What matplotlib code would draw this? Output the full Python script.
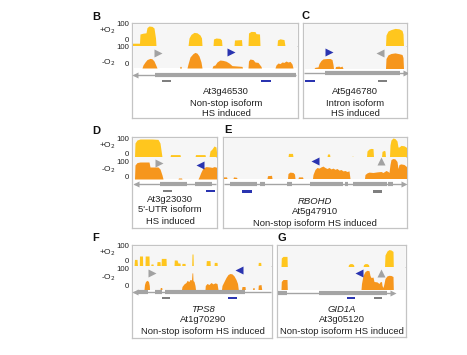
import matplotlib
matplotlib.use('Agg')
import matplotlib.pyplot as plt
from matplotlib.patches import Rectangle

plt.rcParams['font.family'] = ['Liberation Sans', 'DejaVu Sans']

W, H = 467, 355
TOP_C = '#FFC61E'
BOT_C = '#F6961C'
GENE_C = '#a4a4a4'
DARK_C = '#7f7f7f'
BLUE_C = '#2a34b0'
TRI_GRAY = '#a2a2a2'

# ---------------- data (genomic position in panel units, coverage 0-100) ----------------
B_top_x = [0.5, 0.5, 7.5, 8, 11, 14, 15, 17, 20, 22, 23.5, 24,
           56, 57, 59, 62, 65, 68, 69.5, 70,
           81, 81.5, 84, 88, 89.5, 90,
           102, 102.5, 109.5, 110,
           116, 116.5, 119, 123, 124, 127.5, 128,
           145, 145.5, 148, 152, 153]
B_top_y = [0, 14, 14, 60, 64, 66, 92, 100, 98, 90, 40, 0,
           0, 40, 58, 68, 66, 55, 40, 0,
           0, 35, 40, 38, 30, 0,
           0, 30, 32, 0,
           0, 65, 73, 72, 62, 60, 0,
           0, 30, 36, 32, 0]
B_bot_x = [10, 11, 13, 15, 18, 20, 22, 24, 25,
           47.5, 48, 49, 49.5,
           55, 56, 58, 61, 63, 65, 67, 69, 70,
           80, 81, 83, 85, 88, 91, 94, 97, 100, 110, 110.5,
           116, 116.5, 118, 121, 123, 126, 129, 129.5,
           143, 144, 146, 148, 150, 152, 154, 156, 158, 160, 161]
B_bot_y = [0, 15, 30, 42, 48, 46, 35, 12, 0,
           0, 8, 8, 0,
           0, 20, 55, 72, 78, 74, 60, 30, 0,
           0, 12, 15, 30, 40, 38, 34, 25, 12, 8, 0,
           0, 35, 45, 42, 30, 28, 8, 0,
           0, 15, 25, 22, 30, 28, 35, 30, 33, 20, 0]

C_top_x = [82.5, 83, 85, 88, 92, 96, 99, 100, 100.5]
C_top_y = [0, 55, 75, 82, 88, 86, 78, 60, 0]
C_bot_x = [11, 12, 15, 16, 18, 20, 24, 27, 29, 30, 30.5,
           32, 32.5, 36, 37, 39, 40,
           82.5, 83, 85, 88, 92, 96, 99, 100, 100.5]
C_bot_y = [0, 6, 8, 25, 40, 48, 50, 50, 45, 20, 0,
           0, 10, 12, 8, 12, 0,
           0, 50, 68, 75, 78, 74, 70, 55, 0]

D_top_x = [2.5, 3, 5, 8, 20, 26, 28, 30,
           38, 38.5, 48, 48.5,
           63, 63.5, 73, 73.5,
           77, 78, 80, 82, 84, 85]
D_top_y = [0, 70, 85, 90, 90, 88, 70, 0,
           0, 12, 12, 0,
           0, 12, 12, 0,
           0, 30, 40, 55, 50, 0]
D_bot_x = [2.5, 3, 5, 8, 17, 18, 26, 28, 30, 31,
           46, 46.5, 49.5, 50,
           66, 67, 69, 71, 74, 78, 80, 82, 84, 85]
D_bot_y = [0, 70, 82, 85, 85, 60, 60, 50, 20, 0,
           0, 5, 5, 0,
           0, 10, 35, 55, 62, 60, 58, 62, 60, 55]

E_top_x = [65, 65.5, 69.5, 70,
           104, 104.5, 106.5, 107,
           128.5, 129, 130, 130.5,
           143.5, 144, 146, 148, 150, 150.5,
           158.5, 159, 161, 162, 162.5,
           166.5, 167, 168, 170, 172, 174, 175, 176, 178, 181, 183, 184]
E_top_y = [0, 18, 18, 0,
           0, 15, 15, 0,
           0, 4, 4, 0,
           0, 30, 40, 43, 42, 0,
           0, 28, 33, 30, 0,
           0, 60, 85, 95, 92, 80, 50, 50, 58, 56, 50, 45]
E_bot_x = [0, 0.5, 3.5, 4,
           10, 10.5, 13.5, 14,
           44, 44.5, 48.5, 49,
           64.5, 65, 67, 70, 71.5, 72,
           75, 75.5, 79.5, 80,
           89.5, 90, 92, 94, 96, 98, 100, 102, 104, 106, 108, 110, 112, 114, 116, 118,
           120, 122, 124, 126, 127,
           141.5, 142, 144, 146, 150, 154, 158, 160, 163, 165,
           166, 167, 168, 170, 172, 174, 175, 176, 178, 181, 183, 184]
E_bot_y = [0, 8, 8, 0,
           0, 8, 6, 0,
           0, 14, 16, 0,
           0, 25, 32, 30, 22, 0,
           0, 8, 8, 0,
           0, 20, 45, 55, 52, 58, 62, 55, 50, 55, 48, 52, 46, 50, 42, 45,
           38, 40, 35, 38, 0,
           0, 20, 28, 32, 30, 33, 35, 30, 40, 35,
           30, 70, 95, 100, 98, 85, 50, 70, 73, 70, 62, 55]

F_top_x = [2, 2.5, 5, 5.5, 7.3, 7.5, 10.5, 10.7, 13, 13.2, 17, 17.2,
           18.7, 19, 21, 21.3, 24.7, 25, 28, 28.3, 29, 29.3, 34, 34.3,
           42, 42.3, 45, 46, 48, 48.3, 49.7, 50, 53, 53.3,
           59.7, 60, 61, 61.3, 74, 74.3, 78, 78.3, 82, 82.3, 85, 85.3,
           126, 126.3, 128.7, 129]
F_top_y = [0, 33, 33, 0, 0, 50, 50, 0, 0, 50, 50, 0,
           0, 10, 10, 0, 0, 22, 22, 0, 0, 38, 38, 0,
           0, 30, 30, 15, 15, 0, 0, 13, 13, 0,
           0, 60, 60, 0, 0, 27, 27, 0, 0, 18, 18, 0,
           0, 18, 18, 0]
F_bot_x = [12, 12.5, 13.5, 15, 16.5, 17.3, 17.5,
           28, 28.3, 29.7, 30,
           49.5, 50, 52, 54, 55, 57, 58, 59.5, 60, 60.7, 61, 62, 63, 63.5,
           73, 73.3, 75, 77, 79, 81, 83, 85, 86,
           89.5, 90, 92, 94, 96, 98, 100, 102, 104, 105.5, 106.3,
           109.5, 110, 113, 113.3,
           120.5, 121, 122, 122.3,
           126, 126.3, 129, 129.7]
F_bot_y = [0, 25, 40, 46, 40, 20, 0,
           0, 10, 10, 0,
           0, 15, 28, 35, 45, 40, 50, 48, 83, 83, 45, 40, 20, 0,
           0, 20, 30, 25, 35, 28, 33, 30, 0,
           0, 20, 40, 60, 75, 80, 78, 68, 50, 30, 0,
           0, 15, 15, 0,
           0, 10, 10, 0,
           0, 22, 25, 0]

G_top_x = [4, 4.3, 6, 10, 10.3,
           71, 71.5, 73, 75, 76.5, 77,
           86, 86.5, 88, 90, 91.5, 92,
           107.5, 108, 110, 112, 114, 116, 116.3]
G_top_y = [0, 45, 53, 53, 0,
           0, 12, 17, 17, 12, 0,
           0, 12, 17, 17, 12, 0,
           0, 60, 80, 87, 85, 78, 0]
G_bot_x = [4, 4.3, 6, 10, 10.3,
           84, 84.5, 86, 88, 90, 92, 93, 94, 96, 97, 100, 102, 103, 104.5, 105, 106,
           107, 108, 110, 112, 114, 116, 116.3]
G_bot_y = [0, 40, 50, 50, 0,
           0, 30, 70, 90, 96, 94, 70, 60, 62, 40, 38, 30, 38, 40, 20, 10,
           30, 55, 68, 71, 70, 65, 0]

# gene models: intron line span, exon segments, arrow direction
B_line = (1, 164); B_exons = [(23, 164)]; B_dir = 'left'
C_line = (1, 101); C_exons = [(22, 97)]; C_dir = 'right'
D_line = (2, 84); D_exons = [(28, 55), (63, 80)]; D_dir = 'left'
E_line = (1, 180); E_exons = [(7, 34), (37, 42), (64, 69), (87, 120), (122, 125), (130, 164), (165, 170)]; E_dir = 'right'
F_line = (1, 139); F_exons = [(6, 16), (23, 30), (33, 113)]; F_dir = 'left'
G_line = (1, 114); G_exons = [(1, 10), (42, 110)]; G_dir = 'right'

# feature boxes (gray = reference, blue = induced isoform)
B_gray = (30, 39); B_blue = (129, 139)
C_gray = (75, 84); C_blue = (2, 12)
D_gray = (31, 40); D_blue = (74, 83)
E_gray = (150, 159); E_blue = (19, 29)
F_gray = (30, 38); F_blue = (96, 105)
G_gray = (97, 105); G_blue = (70, 78)

# triangles: (x, marker)
B_tri_gray = (26, '>'); B_tri_blue = (98.5, '>')
C_tri_gray = (77, '<'); C_tri_blue = (26, '>')
D_tri_gray = (27, '>'); D_tri_blue = (68, '<')
E_tri_gray = (158, '^'); E_tri_blue = (91.5, '<')
F_tri_gray = (20, '>'); F_tri_blue = (107, '<')
G_tri_gray = (104, '^'); G_tri_blue = (82, '<')

B_text = ['At3g46530', 'Non-stop isoform', 'HS induced']
C_text = ['At5g46780', 'Intron isoform', 'HS induced']
D_text = ['At3g23030', "5'-UTR isoform", 'HS induced']
E_text = ['RBOHD', 'At5g47910', 'Non-stop isoform HS induced']
F_text = ['TPS8', 'At1g70290', 'Non-stop isoform HS induced']
G_text = ['GID1A', 'At3g05120', 'Non-stop isoform HS induced']

# ---------------- layout (pixels) ----------------
panels = [
    dict(label='B', lab=(92, 17), box=(132, 23, 298, 118), ysep=46, ybase=68, gene_y=74.5, fbox_y=79.5,
         tri_y=(52.5, 51.5), text_x=226, text_y=[92, 103, 114], italic0=False,
         tx=B_top_x, ty=B_top_y, bx=B_bot_x, by=B_bot_y, line=B_line, exons=B_exons, dir=B_dir,
         gray=B_gray, blue=B_blue, tg=B_tri_gray, tb=B_tri_blue, text=B_text,
         ylab=dict(t100=25, tO=31, t0=40, b100=47.5, bO=63, b0=64.5)),
    dict(label='C', lab=(301, 16), box=(303, 23, 407, 118), ysep=46, ybase=68.5, gene_y=73, fbox_y=79.5,
         tri_y=(53, 51.5), text_x=355, text_y=[92, 103, 114], italic0=False,
         tx=C_top_x, ty=C_top_y, bx=C_bot_x, by=C_bot_y, line=C_line, exons=C_exons, dir=C_dir,
         gray=C_gray, blue=C_blue, tg=C_tri_gray, tb=C_tri_blue, text=C_text, ylab=None),
    dict(label='D', lab=(92, 131), box=(132, 137, 217, 228), ysep=157, ybase=179, gene_y=183.5, fbox_y=189.5,
         tri_y=(163, 164.5), text_x=170, text_y=[199, 210, 222], italic0=False,
         tx=D_top_x, ty=D_top_y, bx=D_bot_x, by=D_bot_y, line=D_line, exons=D_exons, dir=D_dir,
         gray=D_gray, blue=D_blue, tg=D_tri_gray, tb=D_tri_blue, text=D_text,
         ylab=dict(t100=140, tO=146, t0=154, b100=162, bO=170, b0=177.5)),
    dict(label='E', lab=(224, 130), box=(223, 137, 407, 228), ysep=157, ybase=178.5, gene_y=183.5, fbox_y=190,
         tri_y=(160.5, 160.5), text_x=315, text_y=[201, 212, 223], italic0=True,
         tx=E_top_x, ty=E_top_y, bx=E_bot_x, by=E_bot_y, line=E_line, exons=E_exons, dir=E_dir,
         gray=E_gray, blue=E_blue, tg=E_tri_gray, tb=E_tri_blue, text=E_text, ylab=None),
    dict(label='F', lab=(92, 238), box=(132, 245, 272, 338), ysep=266, ybase=289.5, gene_y=292, fbox_y=296.5,
         tri_y=(272.5, 269.5), text_x=203, text_y=[310, 320, 331], italic0=True,
         tx=F_top_x, ty=F_top_y, bx=F_bot_x, by=F_bot_y, line=F_line, exons=F_exons, dir=F_dir,
         gray=F_gray, blue=F_blue, tg=F_tri_gray, tb=F_tri_blue, text=F_text,
         ylab=dict(t100=246, tO=253, t0=261.5, b100=269.5, bO=277.5, b0=287)),
    dict(label='G', lab=(277, 238), box=(277, 245, 406, 337), ysep=267, ybase=289.5, gene_y=292.5, fbox_y=296.5,
         tri_y=(272.5, 273), text_x=342, text_y=[310, 320, 331.5], italic0=True,
         tx=G_top_x, ty=G_top_y, bx=G_bot_x, by=G_bot_y, line=G_line, exons=G_exons, dir=G_dir,
         gray=G_gray, blue=G_blue, tg=G_tri_gray, tb=G_tri_blue, text=G_text, ylab=None),
]

fig = plt.figure(figsize=(W / 100, H / 100), dpi=100)


def rect(x0, y0, x1, y1):
    return [x0 / W, 1 - y1 / H, (x1 - x0) / W, (y1 - y0) / H]


def clean(ax):
    ax.set_xticks([])
    ax.set_yticks([])


PX_PER_UNIT = 0.2

for p in panels:
    x0, y0, x1, y1 = p['box']
    w = x1 - x0
    bg = fig.add_axes(rect(x0, y0, x1, y1))
    bg.set_xlim(0, w)
    bg.set_ylim(y1 - y0, 0)
    clean(bg)
    bg.set_facecolor('white')
    for s in bg.spines.values():
        s.set_color('#c4c4c4')
        s.set_linewidth(0.9)

    # tracks
    for (ya, yb, xs, ys, col, is_top) in [(y0 + 1, p['ysep'], p['tx'], p['ty'], TOP_C, True),
                                          (p['ysep'], p['ybase'], p['bx'], p['by'], BOT_C, False)]:
        ax = fig.add_axes(rect(x0 + 1, ya, x1 - 1, yb))
        ax.set_xlim(1, w - 1)
        ax.set_ylim(0, (yb - ya) / PX_PER_UNIT)
        ax.fill_between(xs, ys, 0, color=col, lw=0)
        ax.set_facecolor('#f6f6f6')
        clean(ax)
        for k, s in ax.spines.items():
            s.set_visible(False)
        if is_top:
            ax.spines['bottom'].set_visible(True)
            ax.spines['bottom'].set_color('#d8d8d8')
            ax.spines['bottom'].set_linewidth(0.6)

    ov = fig.add_axes(rect(x0, y0, x1, y1))
    ov.set_xlim(0, w)
    ov.set_ylim(y1 - y0, 0)
    ov.patch.set_alpha(0)
    ov.axis('off')

    gy = p['gene_y'] - y0
    la, lb = p['line']
    ov.plot([la, lb], [gy, gy], color=GENE_C, lw=1.0, solid_capstyle='butt', zorder=2)
    for (a, b) in p['exons']:
        ov.plot([a, b], [gy, gy], color=GENE_C, lw=3.0, solid_capstyle='butt', zorder=3)
    if p['dir'] == 'left':
        ov.plot([la + 1.5], [gy], marker='<', ms=4.5, color=GENE_C, mec='none', zorder=4)
    else:
        ov.plot([lb + 1.5], [gy], marker='>', ms=4.5, color=GENE_C, mec='none', zorder=4)

    fy = p['fbox_y'] - y0
    ga, gb = p['gray']
    ov.add_patch(Rectangle((ga, fy), gb - ga, 2.8, color=DARK_C, lw=0, zorder=3))
    ba, bb = p['blue']
    ov.add_patch(Rectangle((ba, fy), bb - ba, 2.8, color=BLUE_C, lw=0, zorder=3))

    tgx, tgm = p['tg']
    tbx, tbm = p['tb']
    ov.plot([tgx], [p['tri_y'][0] - y0], marker=tgm, ms=5.5, color=TRI_GRAY, mec='none', zorder=5)
    ov.plot([tbx], [p['tri_y'][1] - y0], marker=tbm, ms=5.5, color=BLUE_C, mec='none', zorder=5)

    for i, (t, ty) in enumerate(zip(p['text'], p['text_y'])):
        ov.text(p['text_x'] - x0, ty - y0, t, ha='center', va='center', fontsize=6.8,
                style='italic' if (i == 0 and p['italic0']) else 'normal', color='#222222')

    fig.text(p['lab'][0] / W, 1 - p['lab'][1] / H, p['label'], fontsize=8, fontweight='bold',
             ha='left', va='center', color='#111111')

    yl = p['ylab']
    if yl:
        def ft(x, y, s, fs=5.6, ha='right'):
            fig.text(x / W, 1 - y / H, s, fontsize=fs, ha=ha, va='center', color='#222222')
        ft(129, yl['t100'], '100')
        ft(129, yl['t0'], '0')
        ft(129, yl['b100'], '100')
        ft(129, yl['b0'], '0')
        ft(116, yl['tO'], '+O$_2$', fs=6.0)
        ft(116, yl['bO'], '-O$_2$', fs=6.0)

fig.savefig('out.png', dpi=100)
